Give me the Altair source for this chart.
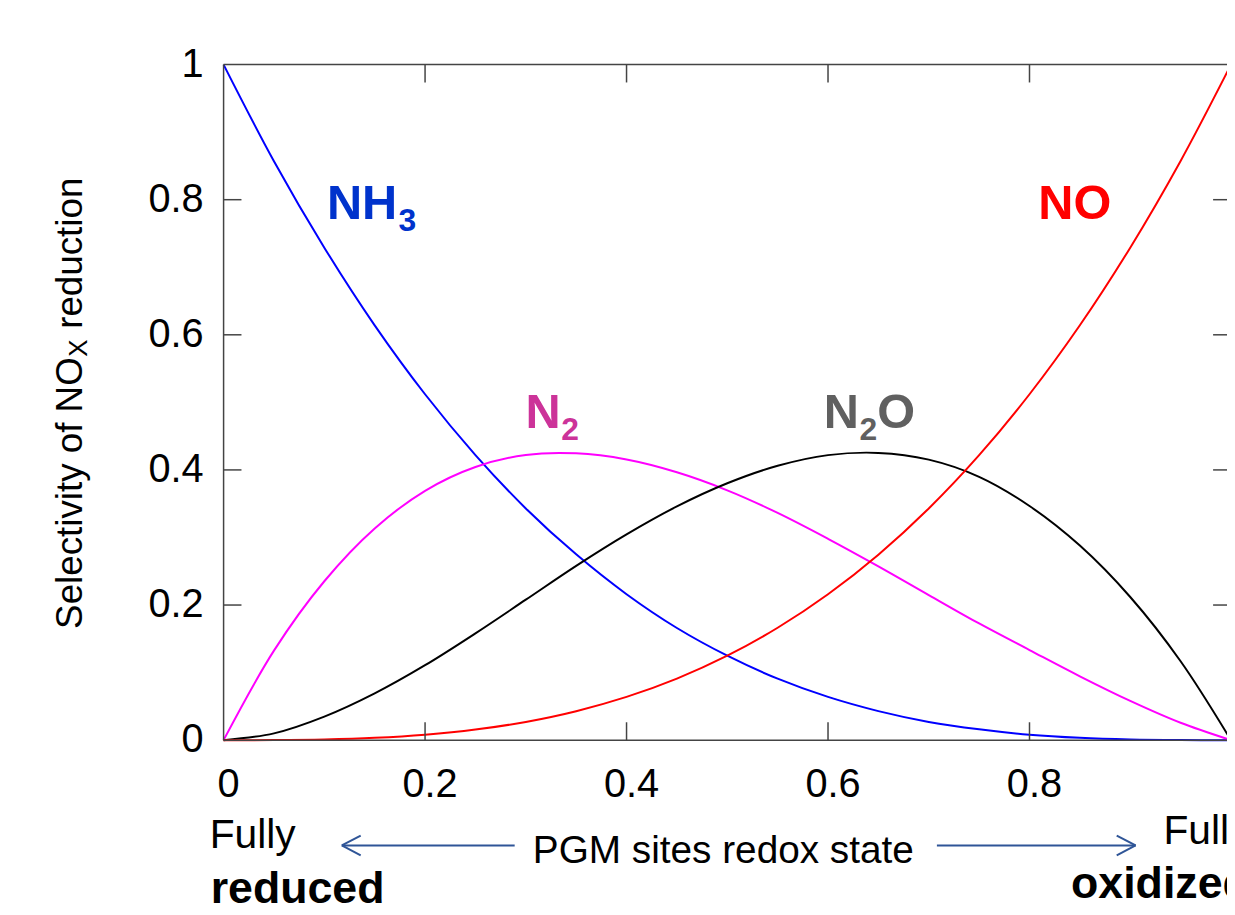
import altair as alt
import pandas as pd

# ---------------- data ----------------
X = [0.0, 0.05, 0.1, 0.15, 0.2, 0.25, 0.3, 0.35, 0.4, 0.45, 0.5,
     0.55, 0.6, 0.65, 0.7, 0.75, 0.8, 0.85, 0.9, 0.95, 1.0]
NH3 = [1.0, 0.857, 0.729, 0.614, 0.512, 0.422, 0.343, 0.275, 0.216, 0.166, 0.125,
       0.091, 0.064, 0.043, 0.027, 0.016, 0.008, 0.0034, 0.001, 0.0001, 0.0]
N2 = [0.0, 0.1325, 0.2352, 0.3133, 0.3691, 0.4044, 0.4221, 0.4245, 0.4154, 0.3965, 0.3698,
      0.3364, 0.2981, 0.2573, 0.2148, 0.1727, 0.1334, 0.0945, 0.0581, 0.0257, 0.0]
N2O = [0.0, 0.0100, 0.0348, 0.0692, 0.1109, 0.1581, 0.2079, 0.2580, 0.3046, 0.3460, 0.3802,
       0.4061, 0.4219, 0.4252, 0.4152, 0.3898, 0.3466, 0.2880, 0.2119, 0.1168, 0.0]
NO = [0.0, 0.0001, 0.001, 0.0034, 0.008, 0.0156, 0.027, 0.0429, 0.064, 0.0911, 0.125,
      0.1664, 0.216, 0.2746, 0.343, 0.4219, 0.512, 0.6141, 0.729, 0.8574, 1.0]

SERIES = ["NH3", "N2", "N2O", "NO"]
LINE_COLORS = ["#0000FF", "#FF00FF", "#000000", "#FF0000"]

X_LABEL_VALUES = [0, 0.2, 0.4, 0.6, 0.8]
X_LABEL_TEXT = ["0", "0.2", "0.4", "0.6", "0.8"]
Y_LABEL_VALUES = [0, 0.2, 0.4, 0.6, 0.8, 1]
Y_LABEL_TEXT = ["0", "0.2", "0.4", "0.6", "0.8", "1"]
INNER_TICKS = [0.2, 0.4, 0.6, 0.8]

# ---------------- layout (pixels, relative to the plot area) ----------------
VIEW_W = 1010      # visible part of the plot area
X_SPAN = 1014      # x = 1 lies just beyond the right edge of the page
H = 680
TICK = 18
FRAME = "#444444"
FONT = "Liberation Sans"
ARROW = "#2F5597"

rows = []
for name, vals in zip(SERIES, [NH3, N2, N2O, NO]):
    for xv, yv in zip(X, vals):
        rows.append({"x": xv, "value": yv, "series": name})
df = pd.DataFrame(rows)
one = pd.DataFrame({"k": [0]})

xscale = alt.Scale(domain=[0, 1], range=[0, X_SPAN], nice=False, zero=False)
yscale = alt.Scale(domain=[0, 1], nice=False)

lines = alt.Chart(df).mark_line(strokeWidth=2, interpolate="catmull-rom").encode(
    x=alt.X("x:Q", scale=xscale, axis=None),
    y=alt.Y("value:Q", scale=yscale, axis=None),
    color=alt.Color("series:N", scale=alt.Scale(domain=SERIES, range=LINE_COLORS), legend=None),
    detail="series:N",
)

xlab = alt.Chart(pd.DataFrame({"v": X_LABEL_VALUES, "lab": X_LABEL_TEXT})).mark_text(
    font=FONT, fontSize=40, color="black", align="center", baseline="alphabetic", dx=5
).encode(x=alt.X("v:Q", scale=xscale, axis=None), y=alt.value(737), text="lab:N")

ylab = alt.Chart(pd.DataFrame({"v": Y_LABEL_VALUES, "lab": Y_LABEL_TEXT})).mark_text(
    font=FONT, fontSize=40, color="black", align="right", baseline="middle"
).encode(y=alt.Y("v:Q", scale=yscale, axis=None), x=alt.value(-20), text="lab:N")


def seg(x1, y1, x2, y2, color=FRAME, width=1.5):
    return alt.Chart(one).mark_rule(color=color, strokeWidth=width).encode(
        x=alt.value(x1), y=alt.value(y1), x2=alt.value(x2), y2=alt.value(y2))


def txt(s, x, y, size, color="black", weight="normal", angle=0, align="left"):
    return alt.Chart(one).mark_text(
        text=s, font=FONT, fontSize=size, fontWeight=weight, color=color,
        align=align, baseline="alphabetic", angle=angle).encode(
        x=alt.value(x), y=alt.value(y))


tickdf = pd.DataFrame({"t": INNER_TICKS})
xt_bottom = alt.Chart(tickdf).mark_rule(color=FRAME, strokeWidth=1.5).encode(
    x=alt.X("t:Q", scale=xscale, axis=None), y=alt.value(H), y2=alt.value(H - TICK))
xt_top = alt.Chart(tickdf).mark_rule(color=FRAME, strokeWidth=1.5).encode(
    x=alt.X("t:Q", scale=xscale, axis=None), y=alt.value(0), y2=alt.value(TICK))
yt_left = alt.Chart(tickdf).mark_rule(color=FRAME, strokeWidth=1.5).encode(
    y=alt.Y("t:Q", scale=yscale, axis=None), x=alt.value(0), x2=alt.value(TICK))
yt_right = alt.Chart(tickdf).mark_rule(color=FRAME, strokeWidth=1.5).encode(
    y=alt.Y("t:Q", scale=yscale, axis=None), x=alt.value(X_SPAN), x2=alt.value(X_SPAN - TICK))

frame = [seg(0, 0, 0, H), seg(0, 0, X_SPAN, 0), seg(0, H, X_SPAN, H), seg(X_SPAN, 0, X_SPAN, H)]

labels = [
    txt("NH", 104, 155, 49, "#0033CC", "bold"),
    txt("3", 176, 168, 32, "#0033CC", "bold"),
    txt("NO", 820, 155, 49, "#FF0000", "bold"),
    txt("N", 304, 366, 49, "#CC3399", "bold"),
    txt("2", 340, 378, 32, "#CC3399", "bold"),
    txt("N", 604, 366, 49, "#606060", "bold"),
    txt("2", 640, 378, 32, "#606060", "bold"),
    txt("O", 658, 366, 49, "#606060", "bold"),
]

ytitle = [
    txt("Selectivity of NO", -143, 568, 37, angle=270),
    txt("X", -137, 294, 26, angle=270),
    txt("reduction", -143, 266, 37, angle=270),
]

bottom = [
    txt("Fully", -14, 789, 41),
    txt("reduced", -13, 844, 45, weight="bold"),
    txt("PGM sites redox state", 503, 804, 39, align="center"),
    txt("Fully", 946, 785, 41),
    txt("oxidized", 853, 839, 45, weight="bold"),
]

arrows = [
    seg(119, 786, 293, 786, ARROW, 2), seg(119, 786, 138, 776, ARROW, 2), seg(119, 786, 138, 796, ARROW, 2),
    seg(718, 786, 918, 786, ARROW, 2), seg(918, 786, 899, 776, ARROW, 2), seg(918, 786, 899, 796, ARROW, 2),
]

chart = alt.layer(
    lines, xlab, ylab, *frame, xt_bottom, xt_top, yt_left, yt_right,
    *labels, *ytitle, *bottom, *arrows
).properties(
    width=VIEW_W, height=H,
    padding={"left": 217, "top": 54, "right": 0, "bottom": 165},
    autosize=alt.AutoSizeParams(type="none"),
).configure_view(stroke=None)

chart.save("out.html", embed_options={"renderer": "svg", "actions": False})
